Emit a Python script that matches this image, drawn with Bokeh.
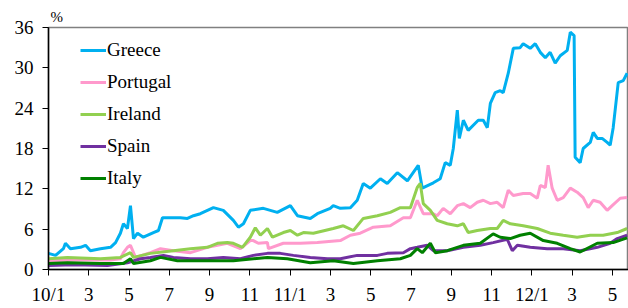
from bokeh.plotting import figure
from bokeh.models import Range1d, Legend, LegendItem, FixedTicker
from bokeh.embed import file_html
from bokeh.resources import INLINE

# months since Jan 2010
greece_x = [0.0, 0.35, 0.74, 0.84, 1.09, 1.59, 1.84, 2.08, 2.58, 3.08, 3.33, 3.57, 3.72, 3.92, 4.07, 4.22,
            4.42, 4.71, 5.21, 5.46, 5.66, 5.91, 6.55, 6.90, 7.20, 7.54, 8.19, 8.68, 9.18, 9.43, 9.68, 10.02,
            10.67, 11.36, 12.01, 12.36, 13.00, 13.35, 13.99, 14.14, 14.49, 14.99, 15.33, 15.63, 15.98, 16.48,
            16.82, 17.32, 17.82, 18.36, 18.56, 19.11, 19.45, 19.70, 19.95, 20.10, 20.30, 20.40, 20.60, 20.84,
            21.34, 21.59, 21.79, 21.94, 22.18, 22.43, 22.58, 22.83, 23.08, 23.42, 23.57, 23.92, 24.17, 24.42,
            24.67, 24.91, 25.16, 25.41, 25.76, 25.91, 26.10, 26.15, 26.40, 26.55, 26.90, 27.05, 27.25, 27.49,
            27.74, 27.89, 28.04, 28.29, 28.54, 28.73]
greece = [2.4, 2.1, 3.1, 3.9, 3.1, 3.3, 3.6, 2.8, 3.1, 3.3, 4.0, 5.4, 6.8, 6.1, 9.5, 4.6,
          5.4, 4.8, 5.5, 5.8, 7.7, 7.7, 7.7, 7.6, 8.0, 8.3, 9.2, 8.8, 7.3, 6.3, 6.8, 8.8,
          9.1, 8.5, 9.5, 8.0, 7.6, 8.3, 9.1, 9.5, 9.1, 9.2, 10.3, 12.8, 12.1, 13.5,
          12.8, 14.4, 13.2, 15.5, 12.1, 12.9, 13.5, 15.9, 15.5, 18.0, 23.7, 19.5, 22.2, 20.7,
          22.2, 22.2, 21.1, 24.7, 26.3, 26.6, 26.3, 29.2, 32.9, 33.0, 33.6, 32.9, 33.6, 32.3,
          31.5, 32.3, 30.7, 31.8, 32.6, 35.3, 34.8, 16.7, 15.9, 18.0, 18.9, 20.4, 19.5, 19.5,
          18.9, 18.5, 21.1, 27.8, 28.1, 29.2]

portugal_x = [0.0, 1.59, 3.08, 3.57, 3.72, 3.92, 4.07, 4.32, 5.06, 5.56, 6.20, 7.05, 7.89, 8.88, 9.53,
              10.02, 10.17, 10.42, 10.87, 10.92, 11.66, 12.51, 13.35, 14.49, 14.99, 15.48, 16.13, 16.97,
              17.62, 17.97, 18.31, 18.61, 19.11, 19.30, 19.60, 19.95, 20.30, 20.60, 20.94, 21.29, 21.59,
              21.94, 22.28, 22.58, 22.83, 23.08, 23.57, 23.92, 24.27, 24.42, 24.67, 24.81, 25.01, 25.26,
              25.56, 25.91, 26.25, 26.55, 26.80, 27.05, 27.39, 27.74, 27.99, 28.39, 28.73]
portugal = [1.3, 1.4, 1.4, 1.6, 2.5, 3.3, 3.6, 1.8, 2.5, 3.1, 2.8, 2.5, 3.3, 3.9, 3.1,
            4.3, 4.3, 3.9, 4.0, 3.1, 3.9, 3.9, 4.0, 4.3, 5.1, 5.4, 6.3, 6.5,
            7.7, 7.7, 10.3, 8.3, 8.3, 8.0, 9.1, 8.3, 9.5, 9.8, 9.2, 10.0, 10.3,
            9.8, 10.0, 9.2, 11.8, 11.0, 11.3, 11.3, 10.6, 12.5, 12.2, 15.5, 12.1, 10.3,
            10.7, 12.1, 11.5, 10.7, 9.2, 10.3, 10.0, 8.8, 9.5, 10.6, 10.7]

ireland_x = [0.0, 0.94, 2.58, 3.57, 4.07, 4.22, 5.06, 6.20, 7.05, 7.89, 8.39, 8.88, 9.18, 9.63, 10.02,
             10.27, 10.52, 10.87, 11.12, 11.66, 12.01, 12.36, 12.66, 13.15, 14.14, 14.64, 15.14, 15.63,
             16.33, 16.97, 17.47, 17.97, 18.31, 18.46, 18.61, 18.96, 19.30, 19.80, 20.30, 20.60, 20.84,
             21.29, 21.94, 22.28, 22.58, 22.93, 23.57, 24.27, 24.91, 25.56, 26.25, 26.90, 27.54, 28.24, 28.73]
ireland = [1.6, 1.8, 1.6, 1.8, 2.5, 1.8, 2.4, 2.8, 3.1, 3.3, 3.9, 4.0, 3.9, 3.3, 4.8,
           6.2, 5.1, 6.1, 4.8, 5.5, 5.8, 5.1, 5.5, 5.4, 6.1, 6.5, 5.8, 7.6,
           8.0, 8.5, 9.2, 9.2, 12.2, 12.8, 9.8, 8.8, 7.3, 6.8, 6.5, 6.8, 5.5,
           5.8, 6.1, 6.1, 7.3, 6.8, 6.5, 6.1, 5.4, 5.1, 4.8, 5.1, 5.1, 5.5, 6.1]

spain_x = [0.0, 1.24, 2.93, 3.92, 4.57, 5.06, 5.71, 6.20, 7.05, 7.89, 8.68, 9.53, 10.17, 10.87, 11.51,
           12.16, 13.00, 13.85, 14.49, 15.33, 16.33, 16.82, 17.62, 17.97, 18.31, 18.81, 19.11, 19.80,
           20.60, 21.44, 22.08, 22.78, 23.03, 23.28, 23.92, 24.76, 25.56, 26.40, 27.25, 27.89, 28.24, 28.73]
spain = [0.6, 0.7, 0.6, 1.0, 1.6, 1.8, 2.1, 1.8, 1.6, 1.6, 1.8, 1.6, 2.1, 2.4, 2.4,
         2.1, 1.8, 1.6, 1.6, 2.1, 2.1, 2.4, 2.5, 3.1, 3.3, 3.6, 2.8, 2.8,
         3.3, 3.6, 4.0, 4.5, 2.8, 3.6, 3.3, 3.1, 3.1, 2.8, 3.3, 3.9, 4.6, 5.1]

italy_x = [0.0, 0.94, 2.58, 3.72, 4.07, 4.22, 5.06, 5.56, 6.40, 7.54, 9.18, 10.87, 11.86, 13.00, 14.14,
           15.14, 16.33, 17.47, 17.97, 18.31, 18.56, 18.96, 19.21, 19.80, 20.60, 21.44, 22.08, 22.43,
           22.93, 23.42, 23.92, 24.57, 25.26, 25.91, 26.40, 27.25, 28.04, 28.73]
italy = [0.9, 1.0, 0.9, 0.9, 1.6, 0.9, 1.3, 1.8, 1.3, 1.3, 1.3, 1.8, 1.6, 1.0, 1.3,
         0.9, 1.3, 1.6, 2.1, 3.1, 2.5, 3.9, 2.5, 2.8, 3.6, 3.9, 5.3, 4.8,
         4.6, 5.1, 5.4, 4.3, 3.9, 3.1, 2.6, 3.9, 4.0, 4.7]

tick_months = [0, 2, 4, 6, 8, 10, 12, 14, 16, 18, 20, 22, 24, 26, 28]
tick_labels = ["10/1", "3", "5", "7", "9", "11", "11/1", "3", "5", "7", "9", "11", "12/1", "3", "5"]
y_ticks = [0, 6, 12, 18, 24, 30, 36]

series = [("Greece", greece_x, greece, "#00B0F0"),
          ("Portugal", portugal_x, portugal, "#FF99CC"),
          ("Ireland", ireland_x, ireland, "#92D050"),
          ("Spain", spain_x, spain, "#7030A0"),
          ("Italy", italy_x, italy, "#008000")]

FONT = "Liberation Serif, Times New Roman, serif"

p = figure(width=628, height=308, output_backend="svg", toolbar_location=None,
           x_range=Range1d(0, 28.8), y_range=Range1d(0, 36),
           min_border_left=48, min_border_right=0, min_border_top=27, min_border_bottom=39,
           title="%")
p.background_fill_color = "white"
p.border_fill_color = "white"
p.outline_line_color = "#808080"
p.outline_line_width = 1.5
p.grid.visible = False

p.title.text_font = FONT
p.title.text_font_size = "15px"
p.title.text_font_style = "normal"
p.title.text_color = "black"
p.title.align = "left"
p.title.offset = 2
p.title.standoff = 6

xa = p.xaxis[0]
xa.ticker = FixedTicker(ticks=tick_months)
xa.major_label_overrides = {t: l for t, l in zip(tick_months, tick_labels)}
xa.minor_tick_line_color = None
xa.major_tick_in = 0
xa.major_tick_out = 6
xa.axis_line_color = "black"
xa.axis_line_width = 1.5
xa.major_tick_line_color = "black"
xa.major_label_text_font = FONT
xa.major_label_text_font_size = "19px"
xa.major_label_text_color = "black"
xa.major_label_standoff = 8

ya = p.yaxis[0]
ya.ticker = FixedTicker(ticks=y_ticks)
ya.minor_tick_line_color = None
ya.major_tick_in = 0
ya.major_tick_out = 6
ya.axis_line_color = "black"
ya.axis_line_width = 1.5
ya.major_tick_line_color = "black"
ya.major_label_text_font = FONT
ya.major_label_text_font_size = "19px"
ya.major_label_text_color = "black"
ya.major_label_standoff = 9

items = []
for name, xs, ys, color in series:
    r = p.line(xs, ys, line_color=color, line_width=3)
    items.append(LegendItem(label=name, renderers=[r]))

legend = Legend(items=items, location=(32, 80), orientation="vertical",
                glyph_width=26, glyph_height=20, label_height=20, spacing=10,
                label_standoff=1, padding=0, margin=0,
                label_text_font=FONT, label_text_font_size="19px", label_text_color="black",
                background_fill_alpha=0, border_line_color=None)
p.add_layout(legend, "center")

open("out.html", "w").write(file_html(p, INLINE))
